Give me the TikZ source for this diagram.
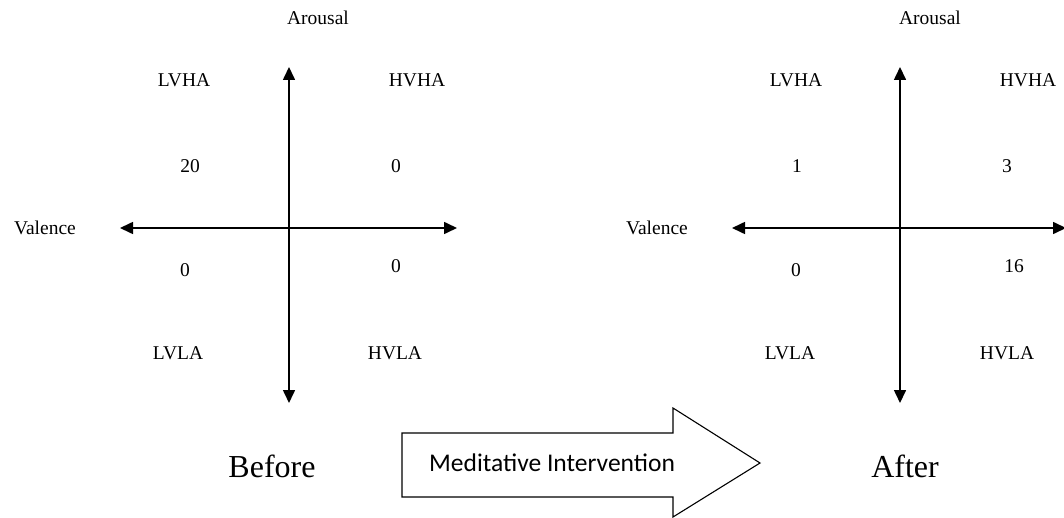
\documentclass[tikz,border=0pt]{standalone}
\usepackage{fontspec}
\setmainfont{Liberation Serif}
\newfontfamily\calibrifont{Carlito}
\usetikzlibrary{arrows.meta,positioning}

\begin{document}
\begin{tikzpicture}[x=1pt,y=-1pt,
  axis/.style={line width=1.6pt,{Triangle[length=13pt,width=12pt]}-{Triangle[length=13pt,width=12pt]}},
  lbl/.style={font=\fontsize{19.5}{21}\selectfont,inner sep=1pt},
  stage/.style={font=\fontsize{32}{35}\selectfont,inner sep=1pt}]

  \useasboundingbox (0,0) rectangle (1064,518);

  % before: axis ends
  \coordinate (bN) at (289,67);
  \coordinate (bS) at (289,403);
  \coordinate (bW) at (120,228);
  \coordinate (bE) at (457,228);

  \draw[axis] (bS) -- (bN);
  \draw[axis] (bW) -- (bE);

  \node[lbl] (bAro) at (318,18) {Arousal};
  \node[lbl] (bVal) at (45,228) {Valence};
  \node[lbl] (bLVHA) at (184,80) {LVHA};
  \node[lbl] (bHVHA) at (417,80) {HVHA};
  \node[lbl] (bLVLA) at (178,353) {LVLA};
  \node[lbl] (bHVLA) at (395,353) {HVLA};
  \node[lbl] (bn1) at (190,166) {20};
  \node[lbl] (bn2) at (396,166) {0};
  \node[lbl] (bn3) at (185,270) {0};
  \node[lbl] (bn4) at (396,266) {0};
  \node[stage] (before) at (272,466) {Before};

  % after: axis ends
  \coordinate (aN) at (900,67);
  \coordinate (aS) at (900,403);
  \coordinate (aW) at (732,228);
  \coordinate (aE) at (1066,228);

  \draw[axis] (aS) -- (aN);
  \draw[axis] (aW) -- (aE);

  \node[lbl] (aAro) at (930,18) {Arousal};
  \node[lbl] (aVal) at (657,228) {Valence};
  \node[lbl] (aLVHA) at (796,80) {LVHA};
  \node[lbl] (aHVHA) at (1028,80) {HVHA};
  \node[lbl] (aLVLA) at (790,353) {LVLA};
  \node[lbl] (aHVLA) at (1007,353) {HVLA};
  \node[lbl] (an1) at (797,166) {1};
  \node[lbl] (an2) at (1007,166) {3};
  \node[lbl] (an3) at (796,270) {0};
  \node[lbl] (an4) at (1014,266) {16};
  \node[stage] (after) at (905,466) {After};

  % block arrow between the two states
  \draw[line width=1.1pt,fill=white] (402,433) -- (673,433) -- (673,408) -- (760,463)
    -- (673,517) -- (673,497) -- (402,497) -- cycle;
  \node[font=\calibrifont\fontsize{25.5}{27}\selectfont] (med) at (552,463) {Meditative Intervention};

\end{tikzpicture}
\end{document}
